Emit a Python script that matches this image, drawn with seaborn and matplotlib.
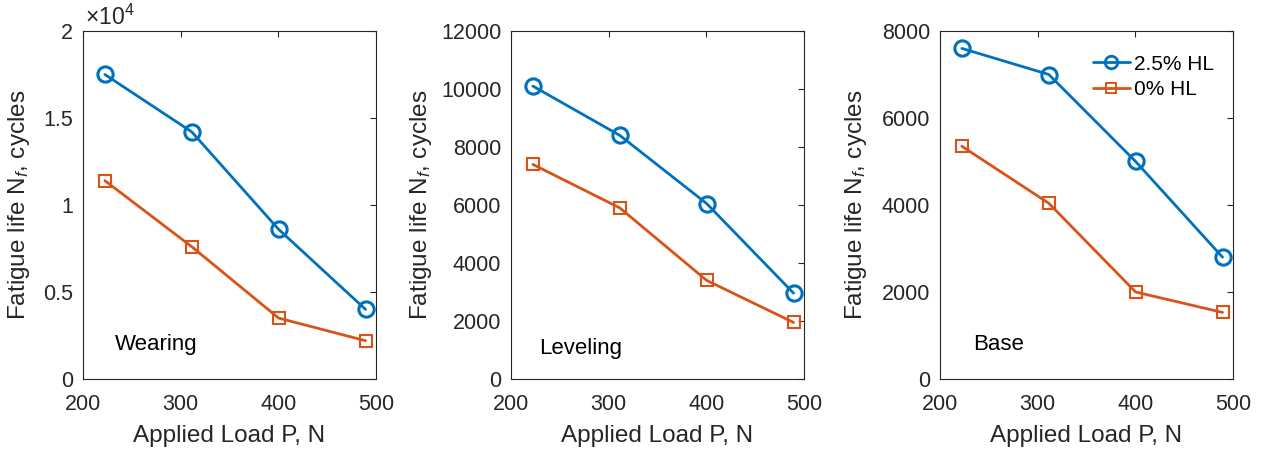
import matplotlib
matplotlib.use("Agg")
import matplotlib.pyplot as plt
import seaborn as sns
import pandas as pd
from matplotlib.ticker import FuncFormatter, FixedLocator

# Data
loads = [222.4, 311.4, 400.3, 489.3]
wearing_hl25 = [17500, 14200, 8600, 4000]
wearing_hl0 = [11400, 7600, 3500, 2200]
leveling_hl25 = [10100, 8400, 6050, 2960]
leveling_hl0 = [7400, 5900, 3400, 1950]
base_hl25 = [7600, 7000, 5000, 2800]
base_hl0 = [5350, 4040, 2000, 1530]
layer_names = ["Wearing", "Leveling", "Base"]
series_names = ["2.5% HL", "0% HL"]
x_ticks = [200, 300, 400, 500]
y_ticks_list = [[0, 5000, 10000, 15000, 20000],
                [0, 2000, 4000, 6000, 8000, 10000, 12000],
                [0, 2000, 4000, 6000, 8000]]

sns.set_theme(style="white")
plt.rcParams['font.family'] = ['Liberation Sans', 'DejaVu Sans']
plt.rcParams['mathtext.fontset'] = 'custom'
plt.rcParams['mathtext.rm'] = 'Liberation Sans'
plt.rcParams['mathtext.it'] = 'Liberation Sans:italic'

blue = "#0072BD"
orange = "#D95319"
gray = "#262626"

fig = plt.figure(figsize=(12.67, 4.54), dpi=100)
lefts = [83 / 1267, 511 / 1267, 940 / 1267]
width = 293 / 1267
bottom = 1 - 379 / 454
height = 348 / 454

data = [(wearing_hl25, wearing_hl0), (leveling_hl25, leveling_hl0), (base_hl25, base_hl0)]
text_pos = [(0.109, 0.098), (0.095, 0.089), (0.112, 0.098)]
ylabel_x = [-0.174, -0.262, -0.243]

for i in range(3):
    ax = fig.add_axes([lefts[i], bottom, width, height])
    hl25, hl0 = data[i]
    df = pd.DataFrame({
        "P": loads * 2,
        "N": list(hl25) + list(hl0),
        "Series": [series_names[0]] * 4 + [series_names[1]] * 4,
    })
    sns.lineplot(data=df, x="P", y="N", hue="Series", style="Series",
                 palette={series_names[0]: blue, series_names[1]: orange},
                 markers={series_names[0]: "o", series_names[1]: "s"},
                 dashes=False, linewidth=2, markersize=10, ax=ax,
                 legend=(i == 2))
    for ln, col, ms, mew in zip(ax.lines[:2], [blue, orange], [11, 8], [2.2, 1.5]):
        ln.set_markerfacecolor("none")
        ln.set_markeredgecolor(col)
        ln.set_markersize(ms)
        ln.set_markeredgewidth(mew)

    yt = y_ticks_list[i]
    ax.set_xlim(200, 500)
    ax.set_ylim(yt[0], yt[-1])
    ax.xaxis.set_major_locator(FixedLocator(x_ticks))
    ax.yaxis.set_major_locator(FixedLocator(yt))
    if i == 0:
        ax.yaxis.set_major_formatter(FuncFormatter(lambda v, p: "%g" % (v / 1e4)))
        ax.text(0.007, 1.017, r"$\times 10^4$", transform=ax.transAxes,
                fontsize=16.5, color=gray, ha="left", va="baseline")
    else:
        ax.yaxis.set_major_formatter(FuncFormatter(lambda v, p: "%d" % v))
    ax.tick_params(direction="in", top=True, right=True, length=4, width=0.8,
                   colors=gray, labelsize=15.5)
    ax.tick_params(axis="x", pad=11)
    ax.tick_params(axis="y", pad=7)
    for s in ax.spines.values():
        s.set_color(gray)
        s.set_linewidth(0.8)
    ax.set_xlabel("Applied Load P, N", fontsize=17.5, color=gray)
    ax.set_ylabel(r"Fatigue life N$_f$, cycles", fontsize=17.5, color=gray)
    ax.xaxis.set_label_coords(0.5, -0.132)
    ax.yaxis.set_label_coords(ylabel_x[i], 0.5)
    ax.text(text_pos[i][0], text_pos[i][1], layer_names[i], transform=ax.transAxes,
            fontsize=16, color="black", ha="left", va="center")
    if i == 2:
        leg = ax.legend(loc="upper left", bbox_to_anchor=(0.522, 0.932),
                        frameon=False, fontsize=15, borderpad=0, borderaxespad=0,
                        handlelength=1.78, handletextpad=0.2, labelspacing=0.3)
        for t in leg.get_texts():
            t.set_color("black")
        for h, col, ms, mew in zip(leg.legend_handles, [blue, orange], [9, 7], [2.0, 1.4]):
            h.set_markerfacecolor("none")
            h.set_markeredgecolor(col)
            h.set_markersize(ms)
            h.set_markeredgewidth(mew)
            h.set_linewidth(2)

fig.savefig("out.png", dpi=100)
